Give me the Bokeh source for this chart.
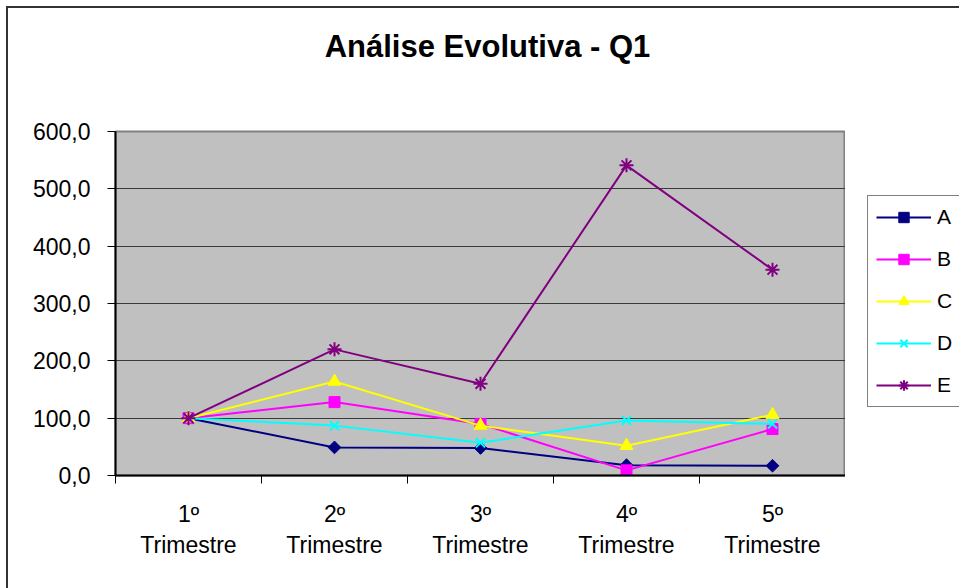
from bokeh.plotting import figure
from bokeh.models import FixedTicker, Legend, LegendItem, Range1d, Div
from bokeh.layouts import column, row
from bokeh.embed import file_html
from bokeh.resources import INLINE
import math

# ---- data ----
title_text = "Análise Evolutiva - Q1"
categories = ["1º\nTrimestre", "2º\nTrimestre", "3º\nTrimestre", "4º\nTrimestre", "5º\nTrimestre"]
series_names = ["A", "B", "C", "D", "E"]
A = [100, 49, 48, 18, 17]
B = [100, 128, 90, 9, 81]
C = [100, 164, 87, 52, 106]
D = [100, 87, 57, 96, 90]
E = [100, 220, 160, 541, 359]
y_ticks = [0, 100, 200, 300, 400, 500, 600]
y_tick_labels = ["0,0", "100,0", "200,0", "300,0", "400,0", "500,0", "600,0"]

FONT = "Liberation Sans"
n = len(categories)
x_centers = [i + 0.5 for i in range(n)]
x_bounds = [i for i in range(n + 1)]

TITLE_H = 70
LEG_W = 114

title_div = Div(
    text=('<div style="width:959px; box-sizing:border-box; padding:29px 0 0 16px; text-align:center; '
          'font-family:\'Liberation Sans\'; font-size:31px; font-weight:bold; '
          'color:black; line-height:normal;">' + title_text + '</div>'),
    width=959, height=TITLE_H, margin=0)

p = figure(frame_width=730, frame_height=344, output_backend="svg", toolbar_location=None,
           x_range=Range1d(0, n), y_range=Range1d(y_ticks[0], y_ticks[-1]),
           min_border_left=115, min_border_right=0,
           min_border_top=131 - TITLE_H, min_border_bottom=113, margin=0)

p.background_fill_color = "#C0C0C0"
p.border_fill_color = None
p.outline_line_color = "#808080"
p.outline_line_width = 2

# y axis
p.yaxis.ticker = FixedTicker(ticks=y_ticks, minor_ticks=[])
p.yaxis.major_label_overrides = dict(zip(y_ticks, y_tick_labels))
p.yaxis.major_label_text_font = FONT
p.yaxis.major_label_text_font_size = "23px"
p.yaxis.major_label_text_color = "black"
p.yaxis.major_tick_out = 8
p.yaxis.major_tick_in = 0
p.yaxis.major_tick_line_color = "black"
p.yaxis.axis_line_color = "black"
p.yaxis.axis_line_width = 2
p.yaxis.major_label_standoff = 17

p.ygrid.ticker = FixedTicker(ticks=y_ticks)
p.ygrid.grid_line_color = "#3a3a3a"
p.ygrid.grid_line_width = 1
p.xgrid.grid_line_color = None

# x axis
p.xaxis.ticker = FixedTicker(ticks=x_centers, minor_ticks=x_bounds)
p.xaxis.major_label_overrides = dict(zip(x_centers, categories))
p.xaxis.major_label_text_font = FONT
p.xaxis.major_label_text_font_size = "23px"
p.xaxis.major_label_text_color = "black"
p.xaxis.major_tick_out = 0
p.xaxis.major_tick_in = 0
p.xaxis.minor_tick_out = 8
p.xaxis.minor_tick_in = 0
p.xaxis.minor_tick_line_color = "black"
p.xaxis.axis_line_color = "black"
p.xaxis.axis_line_width = 2
p.xaxis.major_label_standoff = 17
p.xaxis.major_label_text_align = "center"

styles = [
    ("A", A, "#000080", dict(marker="square", size=9, angle=math.pi / 4)),
    ("B", B, "#FF00FF", dict(marker="square", size=11)),
    ("C", C, "#FFFF00", dict(marker="triangle", size=13)),
    ("D", D, "#00FFFF", dict(marker="x", size=13, line_width=2)),
    ("E", E, "#800080", dict(marker="asterisk", size=14, line_width=2)),
]

# legend lives in its own narrow figure to the right of the chart
# (its x range lies outside the data, so only the legend shows there)
pl = figure(width=LEG_W, height=588 - TITLE_H, output_backend="svg", toolbar_location=None,
            x_range=Range1d(-2, -1), y_range=Range1d(y_ticks[0], y_ticks[-1]),
            x_axis_type=None, y_axis_type=None,
            min_border_left=0, min_border_right=0, min_border_top=0, min_border_bottom=0,
            margin=0)
pl.background_fill_color = None
pl.border_fill_color = None
pl.outline_line_color = None
pl.grid.grid_line_color = None

items = []
for name, vals, col, mk in styles:
    kw = dict(mk)
    lw = kw.pop("line_width", 1)
    p.line(x_centers, vals, line_color=col, line_width=2)
    p.scatter(x_centers, vals, fill_color=col, line_color=col, line_width=lw, **kw)
    l1 = pl.line(x_centers, vals, line_color=col, line_width=2)
    l2 = pl.scatter(x_centers, vals, fill_color=col, line_color=col, line_width=lw, **kw)
    items.append(LegendItem(label=name, renderers=[l1, l2]))

legend = Legend(items=items, location=(22, 68))
legend.border_line_color = "black"
legend.border_line_width = 1
legend.background_fill_color = "white"
legend.background_fill_alpha = 1
legend.label_text_font = FONT
legend.label_text_font_size = "21px"
legend.label_text_color = "black"
legend.glyph_width = 55
legend.glyph_height = 26
legend.label_height = 24
legend.label_standoff = 6
legend.spacing = 16
legend.padding = 8
legend.margin = 0
pl.add_layout(legend)

layout = column(title_div, row(p, pl, spacing=0, margin=0), spacing=0, margin=0, styles={
    "background-image": "linear-gradient(#333333,#333333), linear-gradient(#333333,#333333)",
    "background-size": "2px 100%, 100% 2px",
    "background-position": "6px 6px, 6px 6px",
    "background-repeat": "no-repeat",
})

open("out.html", "w").write(file_html(layout, INLINE))
